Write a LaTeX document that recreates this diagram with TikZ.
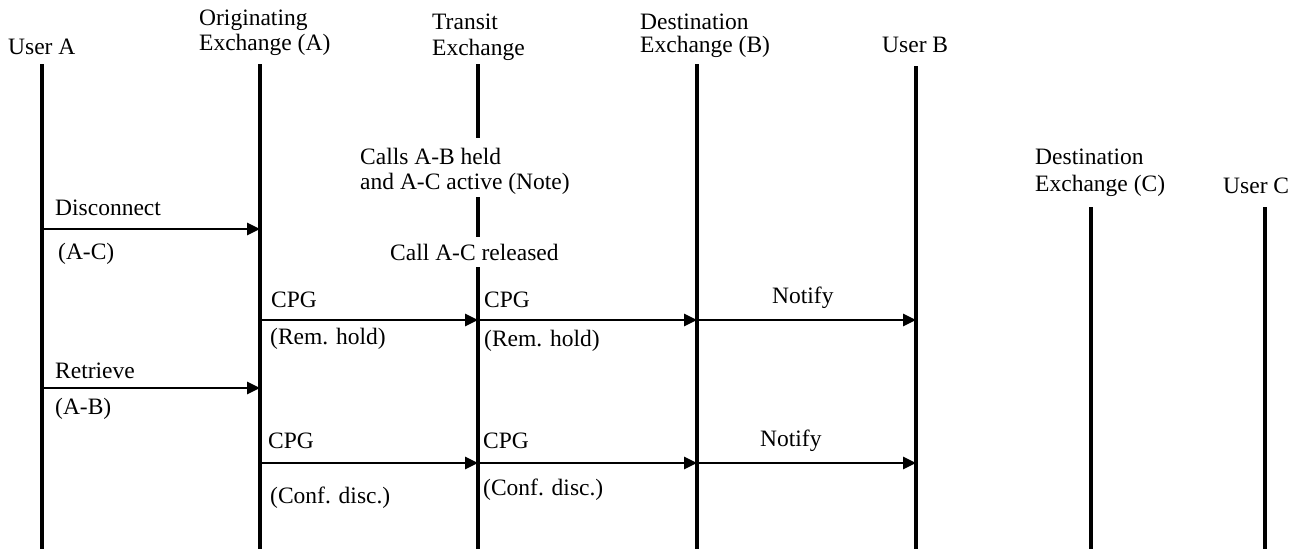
\documentclass[tikz,border=0pt]{standalone}
\usepackage{fontspec}
\setmainfont{Liberation Serif}
\usetikzlibrary{arrows.meta,positioning}
\definecolor{ink}{HTML}{000000}
\tikzset{
  lifeline/.style={draw=ink,line width=3.1pt},
  msg/.style={-{Triangle[length=13pt,width=12pt]},line width=2.8pt,draw=ink},
  lbl/.style={anchor=west,inner sep=0pt,font=\fontsize{23.5}{27}\selectfont,text=ink}
}

\begin{document}
\begin{tikzpicture}[x=1pt,y=-1pt]
    \useasboundingbox (0,0) rectangle (1305,549);

    % lifeline heads
    \coordinate (userA) at (42,64);
    \coordinate (origA) at (260,64);
    \coordinate (transit) at (478,64);
    \coordinate (destB) at (697,64);
    \coordinate (userB) at (916,66);
    \coordinate (destC) at (1091,207);
    \coordinate (userC) at (1265,207);
    \coordinate (bottom) at (0,549);

    % message rows
    \coordinate (r1) at (0,229);
    \coordinate (r2) at (0,320);
    \coordinate (r3) at (0,388);
    \coordinate (r4) at (0,463);

    % transit breaks
    \coordinate (tb1) at (0,138);
    \coordinate (tb2) at (0,197);
    \coordinate (tb3) at (0,237);
    \coordinate (tb4) at (0,267);

    \node[lbl] (nUserA) at (8,47) {User A};
    \node[lbl] (nOrig1) at (199,20) {Originating};
    \node[lbl] (nOrig2) at (199,45) {Exchange (A)};
    \node[lbl] (nTrans1) at (432,22) {Transit};
    \node[lbl] (nTrans2) at (432,50) {Exchange};
    \node[lbl] (nDestB1) at (640,22) {Destination};
    \node[lbl] (nDestB2) at (640,47) {Exchange (B)};
    \node[lbl] (nUserB) at (882,45) {User B};
    \node[lbl] (nDestC1) at (1035,157) {Destination};
    \node[lbl] (nDestC2) at (1035,186) {Exchange (C)};
    \node[lbl] (nUserC) at (1223,186) {User C};

    \foreach \l in {userA,origA,destB,userB,destC,userC}
      \draw[lifeline] (\l) -- (\l |- bottom);
    \draw[lifeline] (transit) -- (transit |- tb1);
    \draw[lifeline] (transit |- tb2) -- (transit |- tb3);
    \draw[lifeline] (transit |- tb4) -- (transit |- bottom);

    \node[lbl] (held1) at (360,156) {Calls A-B held};
    \node[lbl] (held2) at (360,184) {and A-C active (Note)};
    \node[lbl] (released) at (390,252) {Call A-C released};

    \draw[msg] (userA |- r1) -- (origA |- r1);
    \node[lbl] (disc) at (55,208) {Disconnect};
    \node[lbl] (discAC) at (58,254) {(A-C)};

    \draw[msg] (origA |- r2) -- (transit |- r2);
    \draw[msg] (transit |- r2) -- (destB |- r2);
    \draw[msg] (destB |- r2) -- (userB |- r2);
    \node[lbl] (cpg1) at (271,300) {CPG};
    \node[lbl] (hold1) at (270,339) {(Rem. hold)};
    \node[lbl] (cpg2) at (484,300) {CPG};
    \node[lbl] (hold2) at (484,341) {(Rem. hold)};
    \node[lbl] (notify1) at (772,298) {Notify};

    \draw[msg] (userA |- r3) -- (origA |- r3);
    \node[lbl] (retr) at (55,371) {Retrieve};
    \node[lbl] (retrAB) at (55,409) {(A-B)};

    \draw[msg] (origA |- r4) -- (transit |- r4);
    \draw[msg] (transit |- r4) -- (destB |- r4);
    \draw[msg] (destB |- r4) -- (userB |- r4);
    \node[lbl] (cpg3) at (268,441) {CPG};
    \node[lbl] (conf1) at (270,498) {(Conf. disc.)};
    \node[lbl] (cpg4) at (483,441) {CPG};
    \node[lbl] (conf2) at (483,490) {(Conf. disc.)};
    \node[lbl] (notify2) at (760,441) {Notify};
\end{tikzpicture}
\end{document}
